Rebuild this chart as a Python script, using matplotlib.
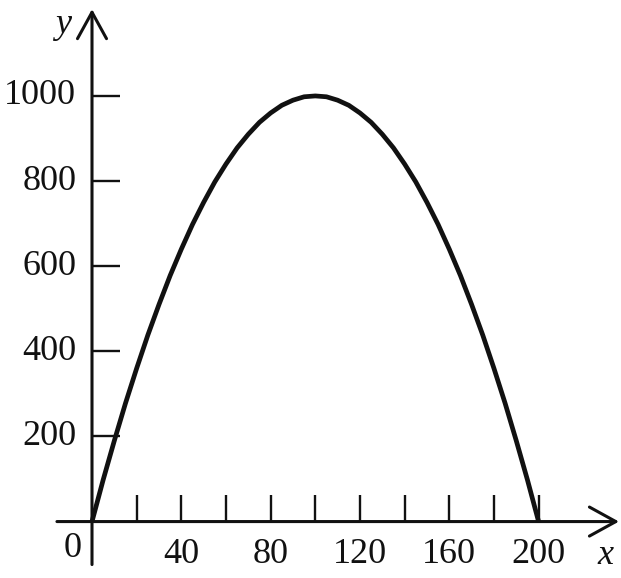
import numpy as np
import matplotlib.pyplot as plt

# values
x_vals = [0, 5, 10, 15, 20, 25, 30, 35, 40, 45, 50, 55, 60, 65, 70, 75, 80, 85, 90, 95, 100,
          105, 110, 115, 120, 125, 130, 135, 140, 145, 150, 155, 160, 165, 170, 175, 180, 185, 190, 195, 200]
y_vals = [0, 98, 190, 278, 360, 438, 510, 578, 640, 698, 750, 798, 840, 878, 910, 938, 960, 978, 990, 998, 1000,
          998, 990, 978, 960, 938, 910, 878, 840, 798, 750, 698, 640, 578, 510, 438, 360, 278, 190, 98, 0]

x_ticks = [20, 40, 60, 80, 100, 120, 140, 160, 180, 200]
x_labels = [40, 80, 120, 160, 200]
y_ticks = [200, 400, 600, 800, 1000]

plt.rcParams['font.family'] = ['Liberation Serif', 'DejaVu Serif']

fig = plt.figure(figsize=(6.21, 5.78), dpi=100)
ax = fig.add_axes([0, 0, 1, 1])
ax.set_xlim(-41.2, 236.9)
ax.set_ylim(-132.6, 1225.4)
ax.axis('off')

ink = '#111111'
# axes with open arrow heads
arrow = dict(arrowstyle='->,head_length=1.0,head_width=0.55', lw=2.2, color=ink,
             mutation_scale=19, shrinkA=0, shrinkB=0)
ax.annotate('', xy=(236, 0), xytext=(-15.7, 0), arrowprops=arrow)
ax.annotate('', xy=(0, 1204), xytext=(0, -101), arrowprops=arrow)

# ticks
ax.vlines(x_ticks, 0, 63, colors=ink, lw=1.7)
ax.hlines(y_ticks, 0, 12.5, colors=ink, lw=1.7)

fs = 26
for v in x_labels:
    ax.text(v, -78, str(v), ha='center', va='center', fontsize=fs, color=ink)
for v in y_ticks:
    ax.text(-7, v, str(v), ha='right', va='center', fontsize=fs, color=ink)
ax.text(-8.5, -64, '0', ha='center', va='center', fontsize=fs, color=ink)
ax.text(230, -80, 'x', ha='center', va='center', fontsize=fs, style='italic', color=ink)
ax.text(-13, 1168, 'y', ha='center', va='center', fontsize=fs, style='italic', color=ink)

ax.plot(x_vals, y_vals, color=ink, lw=3.4, solid_joinstyle='round', solid_capstyle='butt')

fig.savefig('out.png', dpi=100)
